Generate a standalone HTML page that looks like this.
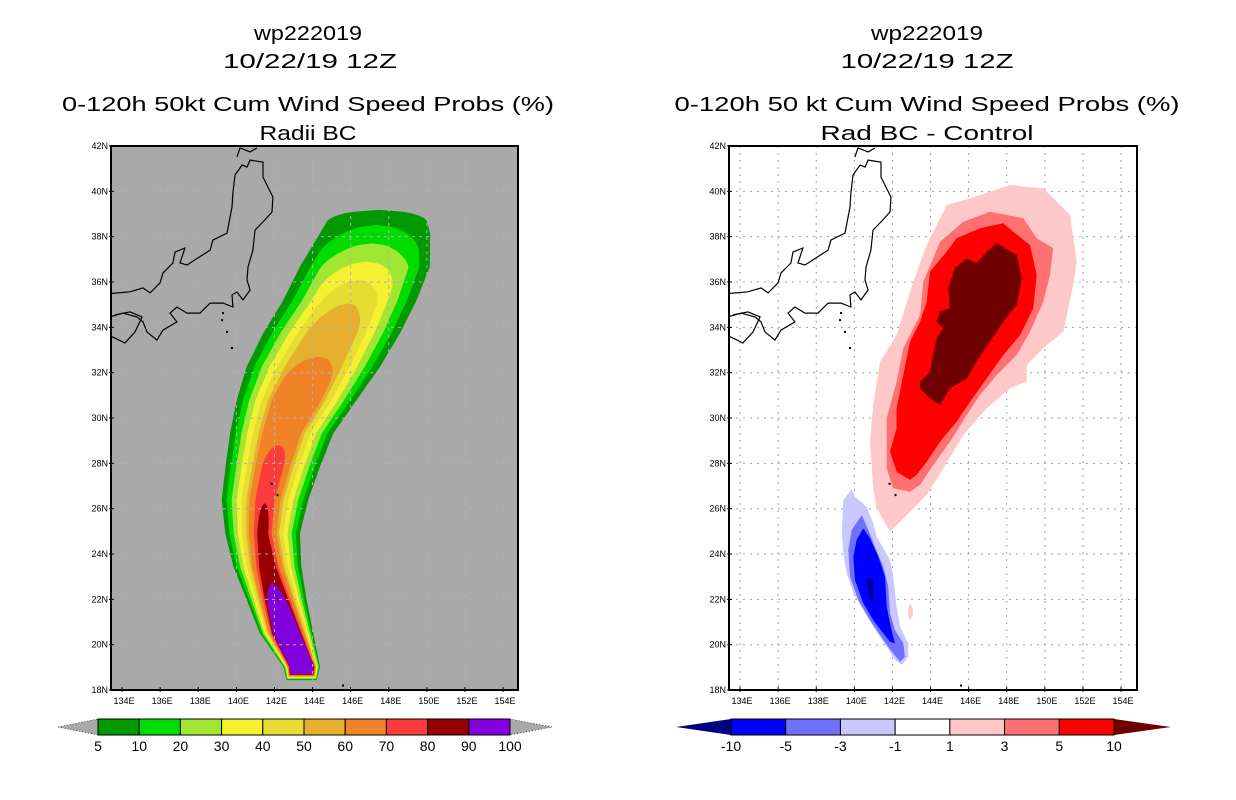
<!DOCTYPE html>
<html><head><meta charset="utf-8"><style>
html,body{margin:0;padding:0;background:#fff;}
svg{display:block;font-family:"Liberation Sans",sans-serif;}
</style></head><body>
<svg id="fig" width="1236" height="800" viewBox="0 0 1236 800" xmlns="http://www.w3.org/2000/svg">
<defs>
<clipPath id="clipL"><rect x="111" y="146" width="407" height="544"/></clipPath>
<clipPath id="clipR"><rect x="729" y="146" width="408" height="544"/></clipPath>
</defs>
<g font-size="20" text-anchor="middle" fill="#000">
<text x="308" y="40" textLength="108" lengthAdjust="spacingAndGlyphs">wp222019</text>
<text x="310" y="68" textLength="174" lengthAdjust="spacingAndGlyphs">10/22/19 12Z</text>
<text x="308" y="111" textLength="492" lengthAdjust="spacingAndGlyphs">0-120h 50kt Cum Wind Speed Probs (%)</text>
<text x="308" y="140" textLength="97" lengthAdjust="spacingAndGlyphs">Radii BC</text>
</g>
<g font-size="20" text-anchor="middle" fill="#000">
<text x="927" y="40" textLength="112" lengthAdjust="spacingAndGlyphs">wp222019</text>
<text x="927" y="68" textLength="173" lengthAdjust="spacingAndGlyphs">10/22/19 12Z</text>
<text x="927" y="111" textLength="505" lengthAdjust="spacingAndGlyphs">0-120h 50 kt Cum Wind Speed Probs (%)</text>
<text x="927" y="140" textLength="213" lengthAdjust="spacingAndGlyphs">Rad BC - Control</text>
</g>
<rect x="111" y="146" width="407" height="544" fill="#a9a9a9"/>
<rect x="729" y="146" width="408" height="544" fill="#fff"/>
<g id="leftPlot" clip-path="url(#clipL)"></g>
<g id="leftGrid" clip-path="url(#clipL)"></g>
<g id="rightGrid" clip-path="url(#clipR)"></g>
<g id="rightPlot" clip-path="url(#clipR)"></g>
<g id="coastL" clip-path="url(#clipL)"></g>
<g id="coastR" clip-path="url(#clipR)"></g>
<rect x="111" y="146" width="407" height="544" fill="none" stroke="#000" stroke-width="2"/>
<rect x="729" y="146" width="408" height="544" fill="none" stroke="#000" stroke-width="2"/>
<g id="axes" font-size="9" fill="#000"></g>
<g id="cbarL"></g>
<g id="cbarR"></g>
</svg>
<script>
// ---- data ----
const latTicks=[42,40,38,36,34,32,30,28,26,24,22,20,18];
const lonTicks=[134,136,138,140,142,144,146,148,150,152,154];
// left plume centerline model (rows ascending latitude)
const rowLat=[18.44,19.03,20.50,21.97,23.44,24.91,26.38,27.85,29.33,30.80,32.26,33.74,35.21,36.68,38.15,39.30];
const rowLon=[143.43,143.43,142.64,142.12,141.63,141.38,141.50,141.91,142.38,143.17,144.04,145.00,145.97,146.75,147.28,147.50];
const rowHalfWidth=[0.79,0.96,1.40,1.57,1.78,1.96,2.27,2.48,2.71,3.15,3.50,3.59,3.50,3.41,2.89,2.3];
const rowSpacing=[0.026,0.04,0.083,0.125,0.176,0.22,0.26,0.28,0.30,0.33,0.40,0.45,0.50,0.55,0.60,0.6];
const levelOffsets=[0,1,2,3,4,5,5.6,6.8,7.6,8.4];
const levelTopLat=[39.18,38.52,37.71,36.90,36.09,35.06,32.71,28.81,26.24,22.71];
const levelColors=["#009a00","#00dc00","#a0e632","#f5f032","#e6dc32","#e6af2d","#f08228","#fa3c3c","#960000","#8200dc"];
const leftLabels=["5","10","20","30","40","50","60","70","80","90","100"];
// right difference contours (lon/lat polygons)
const pinkLon=[148.17,149.92,151.32,151.67,151.49,150.97,149.92,149.05,149.05,148.17,146.95,145.72,144.67,143.80,142.75,141.87,141.17,140.99,140.82,140.99,141.35,142.22,143.09,143.80,144.85,146.07];
const pinkLat=[40.28,40.13,38.96,36.90,35.87,33.81,33.08,32.34,31.60,31.31,30.43,29.25,27.78,26.61,25.72,24.99,26.02,26.90,28.96,30.58,32.49,33.66,36.01,37.63,39.40,39.69];
const salmonLon=[147.12,148.87,149.57,150.44,150.27,149.92,149.22,148.52,147.47,146.60,145.90,145.02,144.14,143.45,142.92,142.04,141.70,141.70,142.22,142.57,143.45,143.62,144.50,145.72];
const salmonLat=[39.10,38.81,37.93,37.49,36.31,35.13,33.81,32.78,31.90,31.02,30.13,28.96,27.93,27.05,26.75,26.90,27.78,29.99,31.60,33.08,34.55,36.01,37.78,38.66];
const redLon=[147.82,148.34,149.22,149.57,149.39,148.70,147.82,146.95,146.07,145.37,144.50,143.80,143.27,142.92,142.22,141.87,142.22,142.22,142.57,142.92,143.45,143.80,143.97,144.85,145.37,146.60];
const redLat=[38.59,38.22,37.63,36.31,34.84,33.66,32.78,31.75,30.72,29.84,28.96,28.07,27.49,27.27,27.63,28.52,29.55,30.43,31.90,33.37,34.25,35.13,36.46,37.34,37.93,38.37];
const maroonLon=[147.47,148.52,148.78,148.52,147.82,147.12,146.42,145.90,145.02,144.50,143.97,143.45,143.45,143.97,144.14,144.32,144.67,144.32,144.50,145.02,144.93,145.28,145.90,146.42,146.95];
const maroonLat=[37.71,37.19,36.16,34.99,34.25,33.37,32.49,31.75,31.31,30.58,30.87,31.31,31.60,32.04,32.78,33.52,33.96,34.25,34.69,34.84,35.72,36.61,37.05,36.83,37.34];
const lightBlueLon=[139.86,140.03,140.65,140.99,141.17,141.87,142.04,142.22,142.40,142.83,142.83,142.49,142.13,141.70,140.99,140.47,139.95,139.60,139.42,139.34,139.42];
const lightBlueLat=[26.86,26.53,26.09,25.36,24.77,23.74,23.00,21.68,20.80,20.06,19.47,19.11,19.33,19.91,20.80,21.53,22.27,23.15,24.03,24.92,26.38];
const midBlueLon=[140.39,140.73,141.08,141.52,141.78,141.87,142.13,142.57,142.66,142.40,142.04,141.52,140.82,140.21,139.77,139.68,139.86];
const midBlueLat=[25.72,25.06,24.32,23.44,22.56,21.39,20.65,20.06,19.47,19.25,19.62,20.21,21.09,21.97,23.00,24.18,25.06];
const blueLon=[140.47,140.82,141.26,141.61,141.70,141.87,142.04,142.13,141.87,141.52,140.99,140.47,140.03,139.95,140.12];
const blueLat=[25.14,24.69,23.88,23.00,21.68,20.95,20.35,20.06,20.13,20.50,21.09,21.83,22.86,23.88,24.62];
const navyLon=[140.65,140.97,140.99,140.85,140.73];
const navyLat=[22.93,22.86,21.90,21.97,22.56];
const rightColors=["#000080","#0000ff","#7070ff","#c8c8ff","#ffffff","#ffc8c8","#ff7070","#ff0000","#6e0000"];
const rightLabels=["-10","-5","-3","-1","1","3","5","10"];
// coastlines
const honshuLon=[133.47,134.42,135.10,135.47,135.99,136.15,136.67,136.78,137.30,137.04,137.41,138.62,138.77,139.51,139.77,139.82,139.93,140.30,140.56,140.72,141.40,141.40,141.92,141.87,141.50,140.98,140.87,140.61,140.56,140.72,140.35,140.03,139.77,139.82,139.30,138.98,138.62,138.09,137.41,136.88,136.52,136.88,136.15,135.83,135.31,135.10,134.78,134.05,133.37];
const honshuLat=[35.50,35.57,35.74,35.52,35.96,36.40,36.84,37.32,37.50,36.84,36.75,37.41,37.85,38.16,39.31,39.93,40.72,41.16,41.07,41.38,41.29,40.63,39.75,39.09,38.74,38.29,37.41,36.66,36.09,35.65,35.21,35.56,35.43,34.90,35.07,35.07,35.07,34.63,34.63,34.90,34.63,34.24,33.88,33.44,33.80,34.24,34.46,34.63,34.46];
const shikokuLon=[133.63,134.42,135.05,134.68,134.15,133.52,133.30];
const shikokuLat=[34.55,34.68,34.46,33.80,33.31,33.57,33.60];
const hokkaidoLon=[140.03,140.19,140.72,141.08];
const hokkaidoLat=[41.51,41.91,41.74,41.91];
const islandLon=[139.30,139.25,139.51,139.77,142.16,145.6,141.85];
const islandLat=[34.63,34.32,33.80,33.09,26.6,18.2,27.1];

// ---- axes functions ----
const NS="http://www.w3.org/2000/svg";
function xL(lon){return 111+(lon-133.42)*19.05;}
function yL(lat){return 146+(42-lat)*22.67;}
function xR(lon){return xL(lon)+618;}
function el(tag,attrs,parent){const e=document.createElementNS(NS,tag);for(const k in attrs)e.setAttribute(k,attrs[k]);parent.appendChild(e);return e;}
function interp(arr,lat){
  if(lat<=rowLat[0])return arr[0];
  for(let i=1;i<rowLat.length;i++){
    if(lat<=rowLat[i]){const t=(lat-rowLat[i-1])/(rowLat[i]-rowLat[i-1]);return arr[i-1]+t*(arr[i]-arr[i-1]);}
  }
  return arr[arr.length-1];
}

// left plume
const lp=document.getElementById('leftPlot');
levelOffsets.forEach((off,k)=>{
  const top=levelTopLat[k];
  const cap=k===0?0.5:Math.min(1.2,(top-rowLat[0])*0.4);
  const L=[],R=[];
  const lat0=rowLat[0]+0.03*k;
  const n=Math.max(4,Math.ceil((top-lat0)/0.08));
  for(let j=0;j<=n;j++){
    const lat=lat0+(top-lat0)*j/n;
    let hw=Math.max(0,interp(rowHalfWidth,lat)-off*interp(rowSpacing,lat));
    if(lat>top-cap){const t=(lat-(top-cap))/cap;hw*=Math.sqrt(Math.max(0,1-t*t));}
    const c=interp(rowLon,lat);
    L.push([xL(c-hw),yL(lat)]);R.push([xL(c+hw),yL(lat)]);
  }
  const pts=L.concat(R.reverse()).map(p=>p[0].toFixed(1)+','+p[1].toFixed(1)).join(' ');
  const p=el('polygon',{points:pts,fill:levelColors[k]},lp);
  
  
});

// right plumes
const rp=document.getElementById('rightPlot');
function poly(lons,lats,fill,name){
  const pts=lons.map((v,i)=>xR(v).toFixed(1)+','+yL(lats[i]).toFixed(1)).join(' ');
  const p=el('polygon',{points:pts,fill:fill},rp);
  
  
}
poly(pinkLon,pinkLat,rightColors[5],'diff-contour-1-3');
poly(salmonLon,salmonLat,rightColors[6],'diff-contour-3-5');
poly(redLon,redLat,rightColors[7],'diff-contour-5-10');
poly(maroonLon,maroonLat,rightColors[8],'diff-contour-over-10');
poly(lightBlueLon,lightBlueLat,rightColors[3],'diff-contour-minus1-3');
poly(midBlueLon,midBlueLat,rightColors[2],'diff-contour-minus3-5');
poly(blueLon,blueLat,rightColors[1],'diff-contour-minus5-10');
poly(navyLon,navyLat,rightColors[0],'diff-contour-under-minus10');
const blob=el('ellipse',{cx:xR(142.95),cy:yL(21.45),rx:2.5,ry:7,fill:rightColors[5]},rp);



// grids
function grid(gid,xf,x0,x1,color,dash){
  const g=document.getElementById(gid);
  lonTicks.forEach(lo=>{const l=el('line',{x1:xf(lo),x2:xf(lo),y1:146,y2:690,stroke:color,'stroke-width':1,'stroke-dasharray':dash},g);
    });
  latTicks.forEach(la=>{const l=el('line',{x1:x0,x2:x1,y1:yL(la),y2:yL(la),stroke:color,'stroke-width':1,'stroke-dasharray':dash},g);
    });
}
grid('leftGrid',xL,111,518,'#b0b0b0','3,4');
grid('rightGrid',xR,729,1137,'#a0a0a0','2,5');

// coastlines
function coast(gid,xf){
  const g=document.getElementById(gid);
  [[honshuLon,honshuLat],[shikokuLon,shikokuLat],[hokkaidoLon,hokkaidoLat]].forEach(([lo,la])=>{
    const pts=lo.map((v,i)=>xf(v).toFixed(1)+','+yL(la[i]).toFixed(1)).join(' ');
    const p=el('polyline',{points:pts,fill:'none',stroke:'#000','stroke-width':1.2},g);
    
  });
  islandLon.forEach((v,i)=>{const r=el('rect',{x:xf(v)-1,y:yL(islandLat[i])-1,width:2,height:2,fill:'#000'},g);
    });
}
coast('coastL',xL);coast('coastR',xR);

// axis labels
const ax=document.getElementById('axes');
[[xL,111],[xR,729]].forEach(([xf,x0],pi)=>{
  latTicks.forEach(la=>{
    const t=el('text',{x:x0-3,y:yL(la)+3,'text-anchor':'end'},ax);t.textContent=la+'N';
    
    el('line',{x1:x0-2,x2:x0+3,y1:yL(la),y2:yL(la),stroke:'#000'},ax);
  });
  lonTicks.forEach(lo=>{
    const t=el('text',{x:xf(lo)+2,y:704,'text-anchor':'middle'},ax);t.textContent=lo+'E';
    
    el('line',{x1:xf(lo),x2:xf(lo),y1:687,y2:692,stroke:'#000'},ax);
  });
});

// colorbars
const cL=document.getElementById('cbarL');
const bw=(510-98)/10;
let tri=el('polygon',{points:'58,727 98,719 98,735',fill:'#a9a9a9',stroke:'#000','stroke-width':0.6,'stroke-dasharray':'1,2'},cL);

tri=el('polygon',{points:'552,727 510,719 510,735',fill:'#a9a9a9',stroke:'#000','stroke-width':0.6,'stroke-dasharray':'1,2'},cL);

levelColors.forEach((c,i)=>{const r=el('rect',{x:98+i*bw,y:719,width:bw,height:16,fill:c,stroke:'#000','stroke-width':1},cL);
  });
leftLabels.forEach((s,i)=>{const t=el('text',{x:98+i*bw,y:751,'text-anchor':'middle','font-size':14},cL);t.textContent=s;
  });

const cR=document.getElementById('cbarR');
const bw2=(1114-731)/7;
tri=el('polygon',{points:'676,727 731,719 731,735',fill:rightColors[0]},cR);

tri=el('polygon',{points:'1171,727 1114,719 1114,735',fill:rightColors[8]},cR);

rightColors.slice(1,8).forEach((c,i)=>{const r=el('rect',{x:731+i*bw2,y:719,width:bw2,height:16,fill:c,stroke:'#000','stroke-width':1},cR);
  });
rightLabels.forEach((s,i)=>{const t=el('text',{x:731+i*bw2,y:751,'text-anchor':'middle','font-size':14},cR);t.textContent=s;
  });
</script>
</body></html>
